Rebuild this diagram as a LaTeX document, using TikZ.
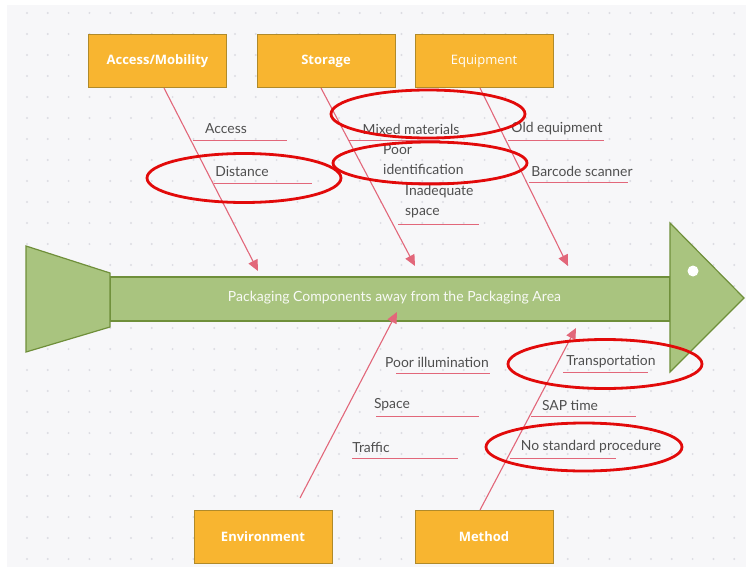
\documentclass[tikz,border=0pt]{standalone}
\usepackage{fontspec}
\setmainfont{Lato}
\newfontfamily\boxfont{Open Sans}
\usetikzlibrary{arrows.meta}
\definecolor{boxfill}{HTML}{F8B530}
\definecolor{boxline}{HTML}{B08A2A}
\definecolor{fishfill}{HTML}{A9C47F}
\definecolor{fishline}{HTML}{6F8F3A}
\definecolor{bone}{HTML}{E2677A}
\definecolor{ring}{HTML}{E20A0A}
\definecolor{bg}{HTML}{F7F7F9}
\definecolor{dotc}{HTML}{DCDCE2}
\definecolor{lbl}{HTML}{4F4F4F}
\tikzset{
  catbox/.style={draw=boxline, fill=boxfill, line width=1pt, minimum width=138pt, minimum height=53pt, inner sep=0pt, font=\boxfont\bfseries\fontsize{13}{15}\selectfont, text=white},
  bonearrow/.style={draw=bone, line width=1.1pt, -{Triangle[length=11pt,width=10pt]}},
  subline/.style={draw=bone, line width=1pt},
  cause/.style={text=lbl, font=\fontsize{13.9}{20}\selectfont, inner sep=0pt},
  hlring/.style={draw=ring, line width=2.8pt}
}
\begin{document}
\begin{tikzpicture}[x=1pt,y=-1pt]
\useasboundingbox (0,0) rectangle (746,567);
\fill[white] (0,0) rectangle (746,567);
\fill[bg] (7,5) rectangle (746,567);
\foreach \i in {0,...,35} {
  \foreach \j in {0,...,26} {
    \fill[dotc] (27+20.8*\i, 13+21*\j) circle (1.1pt);
  }
}
% fish body
\fill[fishfill, draw=fishline, line width=1.2pt] (110,277) rectangle (670,321);
\fill[fishfill, draw=fishline, line width=1.2pt, line join=miter] (26,246) -- (110,273) -- (110,327) -- (26,352) -- cycle;
\fill[fishfill, draw=fishline, line width=1.2pt, line join=miter] (670,223) -- (744,298) -- (670,372) -- cycle;
\fill[white] (693,271) circle (5.5pt);
\node[text=white!92!fishfill, font=\fontsize{14}{16}\selectfont, inner sep=0pt] (title) at (394.5,298) {Packaging Components away from the Packaging Area};
% category boxes
\node[catbox] (acc) at (157.5,61) {Access/Mobility};
\node[catbox] (sto) at (326,61) {Storage};
\node[catbox, font=\boxfont\fontsize{13}{15}\selectfont] (equ) at (484,61) {Equipment};
\node[catbox] (env) at (263,537) {Environment};
\node[catbox] (met) at (484,537) {Method};
% arrow tips
\coordinate (accT) at (258,271);
\coordinate (stoT) at (415,266);
\coordinate (equT) at (568,266);
\coordinate (envT) at (397,312);
\coordinate (metT) at (576,328);
\draw[bonearrow] (acc.south -| 164,0) -- (accT);
\draw[bonearrow] (sto.south -| 321,0) -- (stoT);
\draw[bonearrow] (equ.south -| 480,0) -- (equT);
\draw[bonearrow] (300,498) coordinate (envS) -- (envT);
\draw[bonearrow] (met.north -| 480,0) -- (metT);
% sub-cause lines
\draw[subline] (193,140) coordinate (a1) -- (287,140) coordinate (a2);
\draw[subline] (214,183) coordinate (d1) -- (312,183) coordinate (d2);
\draw[subline] (348,140) coordinate (m1) -- (440,140) coordinate (m2);
\draw[subline] (508,140) coordinate (o1) -- (604,140) coordinate (o2);
\draw[subline] (382,182) coordinate (p1) -- (466,182) coordinate (p2);
\draw[subline] (529,182) coordinate (b1) -- (628,182) coordinate (b2);
\draw[subline] (398,224) coordinate (i1) -- (479,224) coordinate (i2);
\draw[subline] (396,373) coordinate (pi1) -- (490,373) coordinate (pi2);
\draw[subline] (376,416) coordinate (s1) -- (479,416) coordinate (s2);
\draw[subline] (352,458) coordinate (t1) -- (458,458) coordinate (t2);
\draw[subline] (563,372) coordinate (tr1) -- (648,372) coordinate (tr2);
\draw[subline] (531,416) coordinate (sap1) -- (636,416) coordinate (sap2);
\draw[subline] (510,458) coordinate (n1) -- (616,458) coordinate (n2);
% sub-cause labels
\node[cause] (lAccess) at (226,129) {Access};
\node[cause] (lDist) at (242,171) {Distance};
\node[cause] (lMixed) at (411,129) {Mixed materials};
\node[cause] (lOld) at (557,129) {Old equipment};
\node[cause, align=left, anchor=west] (lPoor) at (383,160) {Poor\\identification};
\node[cause] (lBar) at (582,171) {Barcode scanner};
\node[cause, align=left, anchor=west] (lInad) at (405,202) {Inadequate\\space};
\node[cause] (lIll) at (437,362) {Poor illumination};
\node[cause] (lSpace) at (392,405) {Space};
\node[cause] (lTraf) at (371,447) {Traffic};
\node[cause] (lTrans) at (611,362) {Transportation};
\node[cause] (lSAP) at (570,405) {SAP time};
\node[cause] (lNo) at (591,447) {No standard procedure};
% highlight rings
\draw[hlring] (428,114) ellipse (97pt and 24pt);
\draw[hlring] (430,163) ellipse (97pt and 21pt);
\draw[hlring] (244,178) ellipse (97pt and 24.5pt);
\draw[hlring] (605,364) ellipse (97pt and 24.5pt);
\draw[hlring] (584,447) ellipse (98pt and 24pt);
\end{tikzpicture}
\end{document}
